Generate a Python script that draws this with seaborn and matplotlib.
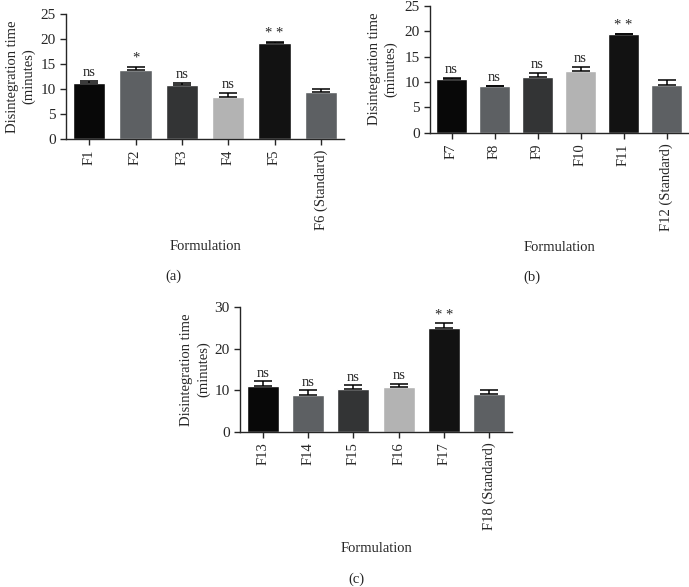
# Tiempo de desintegracion por formulacion, tres paneles (a), (b), (c)

import seaborn as sns
import matplotlib.pyplot as plt

labels_a = ["F1", "F2", "F3", "F4", "F5", "F6 (Standard)"]
means_a = [11.3, 13.9, 10.9, 8.5, 19.2, 9.5]
err_a = [0.3, 0.6, 0.4, 0.7, 0.15, 0.6]
signif_a = ["ns", "*", "ns", "ns", "* *", ""]

labels_b = ["F7", "F8", "F9", "F10", "F11", "F12 (Standard)"]
means_b = [10.6, 9.15, 11.0, 12.2, 19.4, 9.35]
err_b = [0.1, 0.1, 0.85, 0.75, 0.1, 0.95]
signif_b = ["ns", "ns", "ns", "ns", "* *", ""]

labels_c = ["F13", "F14", "F15", "F16", "F17", "F18 (Standard)"]
means_c = [11.1, 8.9, 10.3, 10.7, 25.1, 9.15]
err_c = [1.0, 1.05, 0.85, 0.9, 1.0, 0.95]
signif_c = ["ns", "ns", "ns", "ns", "* *", ""]

colores = ["#080808", "#5d6063", "#333435", "#b3b3b3", "#121212", "#5d6063"]

sns.set_style("ticks")
plt.rcParams["font.family"] = ["Liberation Serif", "DejaVu Serif"]
plt.rcParams["font.size"] = 10.5

fig = plt.figure(figsize=(6.89, 5.87), dpi=100)


def panel(pos, labels, means, err, signif, ymax, step, ylab_x, xlab_y):
    ax = fig.add_axes(pos)
    sns.barplot(x=labels, y=means, hue=labels, palette=colores, legend=False,
                width=0.7, saturation=1, errorbar=None, ax=ax)
    ax.errorbar(range(len(means)), means, yerr=[[0] * len(err), err], fmt="none",
                ecolor="black", elinewidth=1.1, capsize=6.5, capthick=1.1)
    for i, s in enumerate(signif):
        if s:
            ax.annotate(s, (i, means[i] + err[i]), xytext=(0, 3.5),
                        textcoords="offset points", ha="center", va="baseline",
                        fontsize=10.5)
    ax.set_xlim(-0.5, len(labels) - 0.5)
    ax.set_ylim(0, ymax)
    ax.set_yticks(range(0, ymax + 1, step))
    ax.tick_params(axis="x", rotation=90, labelsize=10.5, length=4, width=1)
    ax.tick_params(axis="y", labelsize=11, length=4, width=1)
    for sp in ["left", "bottom"]:
        ax.spines[sp].set_linewidth(1)
    sns.despine(ax=ax)
    ax.set_ylabel("Disintegration time\n(minutes)", fontsize=10.5, linespacing=1.3)
    ax.yaxis.label.set_va("center")
    ax.yaxis.set_label_coords(ylab_x, 0.5)
    ax.set_xlabel("Formulation", fontsize=10.5)
    ax.xaxis.label.set_va("center")
    ax.xaxis.set_label_coords(0.5, xlab_y)
    return ax


panel([0.0958, 0.7632, 0.4035, 0.2129], labels_a, means_a, err_a, signif_a,
      25, 5, -0.164, -0.862)
panel([0.6241, 0.7739, 0.3745, 0.2164], labels_b, means_b, err_b, signif_b,
      25, 5, -0.182, -0.906)
panel([0.3483, 0.2646, 0.3948, 0.2120], labels_c, means_c, err_c, signif_c,
      30, 10, -0.165, -0.937)

fig.text(173 / 689, 1 - 276 / 587, "(a)", ha="center", va="center", fontsize=10.5)
fig.text(532 / 689, 1 - 277 / 587, "(b)", ha="center", va="center", fontsize=10.5)
fig.text(356 / 689, 1 - 579 / 587, "(c)", ha="center", va="center", fontsize=10.5)

plt.savefig("out.png", dpi=100)
